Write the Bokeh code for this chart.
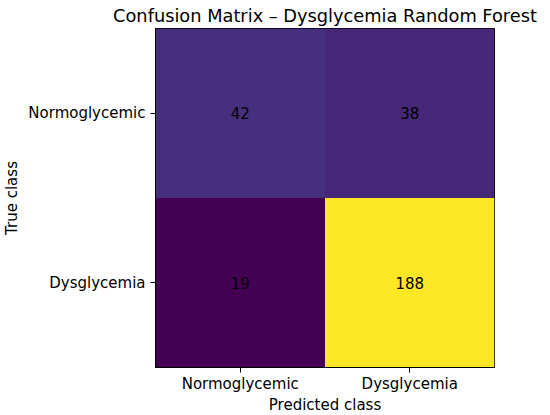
from bokeh.plotting import figure
from bokeh.models import FactorRange, LinearColorMapper, ColumnDataSource
from bokeh.palettes import Viridis256
from bokeh.transform import transform
from bokeh.core.properties import value
from bokeh.embed import file_html
from bokeh.resources import INLINE

classes = ["Normoglycemic", "Dysglycemia"]
true_labels = ["Normoglycemic", "Normoglycemic", "Dysglycemia", "Dysglycemia"]
pred_labels = ["Normoglycemic", "Dysglycemia", "Normoglycemic", "Dysglycemia"]
counts = [42, 38, 19, 188]
title_text = "Confusion Matrix \u2013 Dysglycemia Random Forest"

FONT = "DejaVu Sans"
FS = "15px"

src = ColumnDataSource(dict(t=true_labels, p=pred_labels, c=counts,
                            s=[str(v) for v in counts]))
mapper = LinearColorMapper(palette=Viridis256, low=min(counts), high=max(counts))

p = figure(x_range=FactorRange(*classes), y_range=FactorRange(*classes[::-1]),
           frame_width=339, frame_height=339, output_backend="svg",
           toolbar_location=None, min_border_left=149, min_border_right=46,
           min_border_bottom=44, min_border_top=0, title=title_text)

p.rect(x="p", y="t", width=1, height=1, source=src,
       fill_color=transform("c", mapper), line_color=None)
p.text(x="p", y="t", text="s", source=src, text_align="center",
       text_baseline="middle", text_color="black",
       text_font=value(FONT), text_font_size=FS)

p.title.text_font = FONT
p.title.text_font_size = "17.8px"
p.title.text_font_style = "normal"
p.title.align = "center"
p.title.text_color = "black"
p.title.standoff = 5

p.grid.visible = False
p.outline_line_color = "black"
p.outline_line_alpha = 1
p.outline_line_width = 1

for ax in (p.xaxis[0], p.yaxis[0]):
    ax.major_label_text_font = FONT
    ax.major_label_text_font_size = FS
    ax.major_label_text_color = "black"
    ax.axis_label_text_font = FONT
    ax.axis_label_text_font_size = FS
    ax.axis_label_text_font_style = "normal"
    ax.axis_label_text_color = "black"
    ax.major_tick_out = 5
    ax.major_tick_in = 0
    ax.minor_tick_out = 0
    ax.axis_line_color = "black"
    ax.major_tick_line_color = "black"

p.xaxis.axis_label = "Predicted class"
p.yaxis.axis_label = "True class"
p.yaxis.major_label_orientation = "horizontal"
p.xaxis.major_label_standoff = 2
p.yaxis.major_label_standoff = 5
p.xaxis.axis_label_standoff = 0
p.yaxis.axis_label_standoff = 4

open("out.html", "w").write(file_html(p, INLINE))
